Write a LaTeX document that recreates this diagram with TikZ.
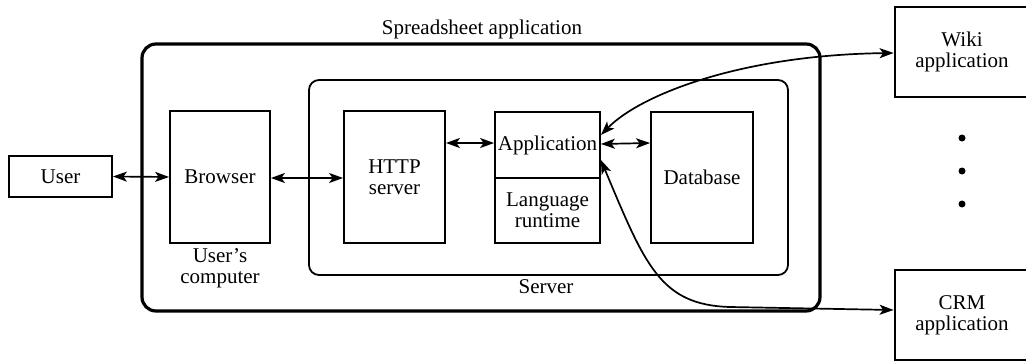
\documentclass[tikz,border=0pt]{standalone}
\usepackage{fontspec}
\setmainfont{Liberation Serif}
\usetikzlibrary{arrows.meta}
\begin{document}
\begin{tikzpicture}[x=1pt,y=-1pt,
  font=\fontsize{21}{21}\selectfont,
  box/.style={draw,line width=1.8pt,inner sep=0pt,align=center},
  extbox/.style={box,line width=2.8pt},
  frame/.style={draw,rounded corners=#1},
  link/.style={line width=1.7pt,{Stealth[length=14pt,width=10pt,inset=3.5pt]}-{Stealth[length=14pt,width=10pt,inset=3.5pt]}},
  label/.style={inner sep=0pt,align=center},
  dotmark/.style={circle,fill,inner sep=0pt,minimum size=7pt}]
\useasboundingbox (0,0) rectangle (1026,364);

% enclosing frames
\draw[frame=14pt,line width=3.2pt] (142,44) rectangle (820,311);
\draw[frame=10pt,line width=1.8pt] (309,80) rectangle (788,275);
\node[label] (sheetlbl) at (482,29) {Spreadsheet application};
\node[label] (serverlbl) at (546,287) {Server};
\node[label] (pclbl) at (220,268) {User's\\computer};

% components
\node[box,minimum width=103pt,minimum height=41pt] (user) at (60.5,176.5) {User};
\node[box,minimum width=100pt,minimum height=132pt] (browser) at (220,177) {Browser};
\node[box,minimum width=101pt,minimum height=132pt] (http) at (394.5,177) {HTTP\\server};
\node[box,minimum width=105pt,minimum height=66pt] (app) at (547.5,145) {Application};
\node[box,minimum width=105pt,minimum height=65pt] (lang) at (547.5,210.5) {Language\\runtime};
\node[box,minimum width=102pt,minimum height=131pt] (db) at (702,177.5) {Database};

% external applications
\node[extbox,minimum width=134pt,minimum height=90pt] (wiki) at (962,52) {Wiki\\application};
\node[extbox,minimum width=134pt,minimum height=90pt] (crm) at (962,315) {CRM\\application};
\node[dotmark] (d1) at (962,138) {};
\node[dotmark] (d2) at (962,171) {};
\node[dotmark] (d3) at (962,204) {};

% connections
\draw[link] (user.east) -- (browser.west);
\draw[link] ([yshift=-1pt]browser.east) -- ([yshift=-1pt]http.west);
\draw[link] ([yshift=34pt]http.east) -- ([yshift=2pt]app.west);
\draw[link] ([yshift=1pt]app.east) -- ([yshift=34.5pt]db.west);
\draw[link] ([yshift=10pt]app.east) .. controls (640,95) and (740,55) .. ([yshift=-1pt]wiki.west);
\draw[link] ([yshift=-15pt]app.east) .. controls (645,265) and (660,305) .. (730,307) -- ([yshift=5pt]crm.west);
\end{tikzpicture}
\end{document}
